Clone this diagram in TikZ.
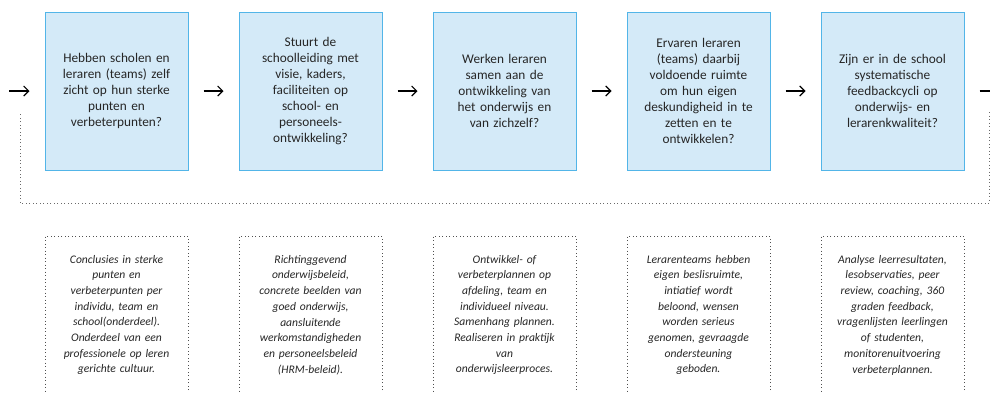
\documentclass[tikz,border=0pt]{standalone}
\usepackage{fontspec}
\setmainfont{Carlito}
\usetikzlibrary{arrows.meta}
\definecolor{vlak}{HTML}{D4EAF8}
\definecolor{rand}{HTML}{52B5E8}
\definecolor{stippel}{HTML}{505050}
\begin{document}
\begin{tikzpicture}[x=1pt, y=-1pt,
  vraag/.style={draw=rand, fill=vlak, line width=1pt, minimum width=143pt, minimum height=158pt,
    inner sep=0pt, text width=130pt, align=center, text=black!85, font=\fontsize{13.3}{16}\selectfont},
  uitleg/.style={draw=stippel, line width=1pt, dash pattern=on 1pt off 2.5pt, minimum width=143pt,
    minimum height=158pt, inner sep=0pt, text width=136pt, align=center, text=black!85,
    font=\fontsize{11.6}{15.7}\selectfont\itshape},
  pijl/.style={line width=1.1pt, shorten <=15pt, shorten >=15pt, -{Straight Barb[length=5pt,width=10pt]}},
  lus/.style={draw=stippel!85, line width=1pt, dash pattern=on 1pt off 2.5pt}]
  \useasboundingbox (0,0) rectangle (990,392); \clip (0,0) rectangle (990,392);
  \foreach \i/\t in {1/{Hebben scholen en\\leraren (teams) zelf\\zicht op hun sterke\\punten en\\verbeterpunten?},
      2/{Stuurt de\\schoolleiding met\\visie, kaders,\\faciliteiten op\\school- en\\personeels-\\ontwikkeling?},
      3/{Werken leraren\\samen aan de\\ontwikkeling van\\het onderwijs en\\van zichzelf?},
      4/{Ervaren leraren\\(teams) daarbij\\voldoende ruimte\\om hun eigen\\deskundigheid in te\\zetten en te\\ontwikkelen?},
      5/{Zijn er in de school\\systematische\\feedbackcycli op\\onderwijs- en\\lerarenkwaliteit?}}
    \node[vraag] (v\i) at ({116.5+194*(\i-1)},91) {\t};
  \foreach \i/\t in {1/{Conclusies in sterke\\punten en\\verbeterpunten per\\individu, team en\\school(onderdeel).\\Onderdeel van een\\professionele op leren\\gerichte cultuur.},
      2/{Richtinggevend\\onderwijsbeleid,\\concrete beelden van\\goed onderwijs,\\aansluitende\\werkomstandigheden\\en personeelsbeleid\\(HRM-beleid).},
      3/{Ontwikkel- of\\verbeterplannen op\\afdeling, team en\\individueel niveau.\\Samenhang plannen.\\Realiseren in praktijk\\van\\onderwijsleerproces.},
      4/{Lerarenteams hebben\\eigen beslisruimte,\\intiatief wordt\\beloond, wensen\\worden serieus\\genomen, gevraagde\\ondersteuning\\geboden.},
      5/{Analyse leerresultaten,\\lesobservaties, peer\\review, coaching, 360\\graden feedback,\\vragenlijsten leerlingen\\of studenten,\\monitorenuitvoering\\verbeterplannen.}}
    \node[uitleg] (u\i) at ({116.5+194*(\i-1)},315) {\t};
  \coordinate (start) at (9,91); \coordinate (einde) at (999,91);
  \coordinate (lusR) at (989,112); \coordinate (lusB) at (500,203); \coordinate (lusL) at (20,112);
  \draw[pijl, shorten <=0pt] (start) -- (v1);
  \foreach \i/\j in {1/2,2/3,3/4,4/5} \draw[pijl] (v\i) -- (v\j);
  \draw[pijl, shorten >=0pt] (v5) -- (einde);
  \draw[lus] (lusR) |- (lusB) -| (lusL);
\end{tikzpicture}
\end{document}
